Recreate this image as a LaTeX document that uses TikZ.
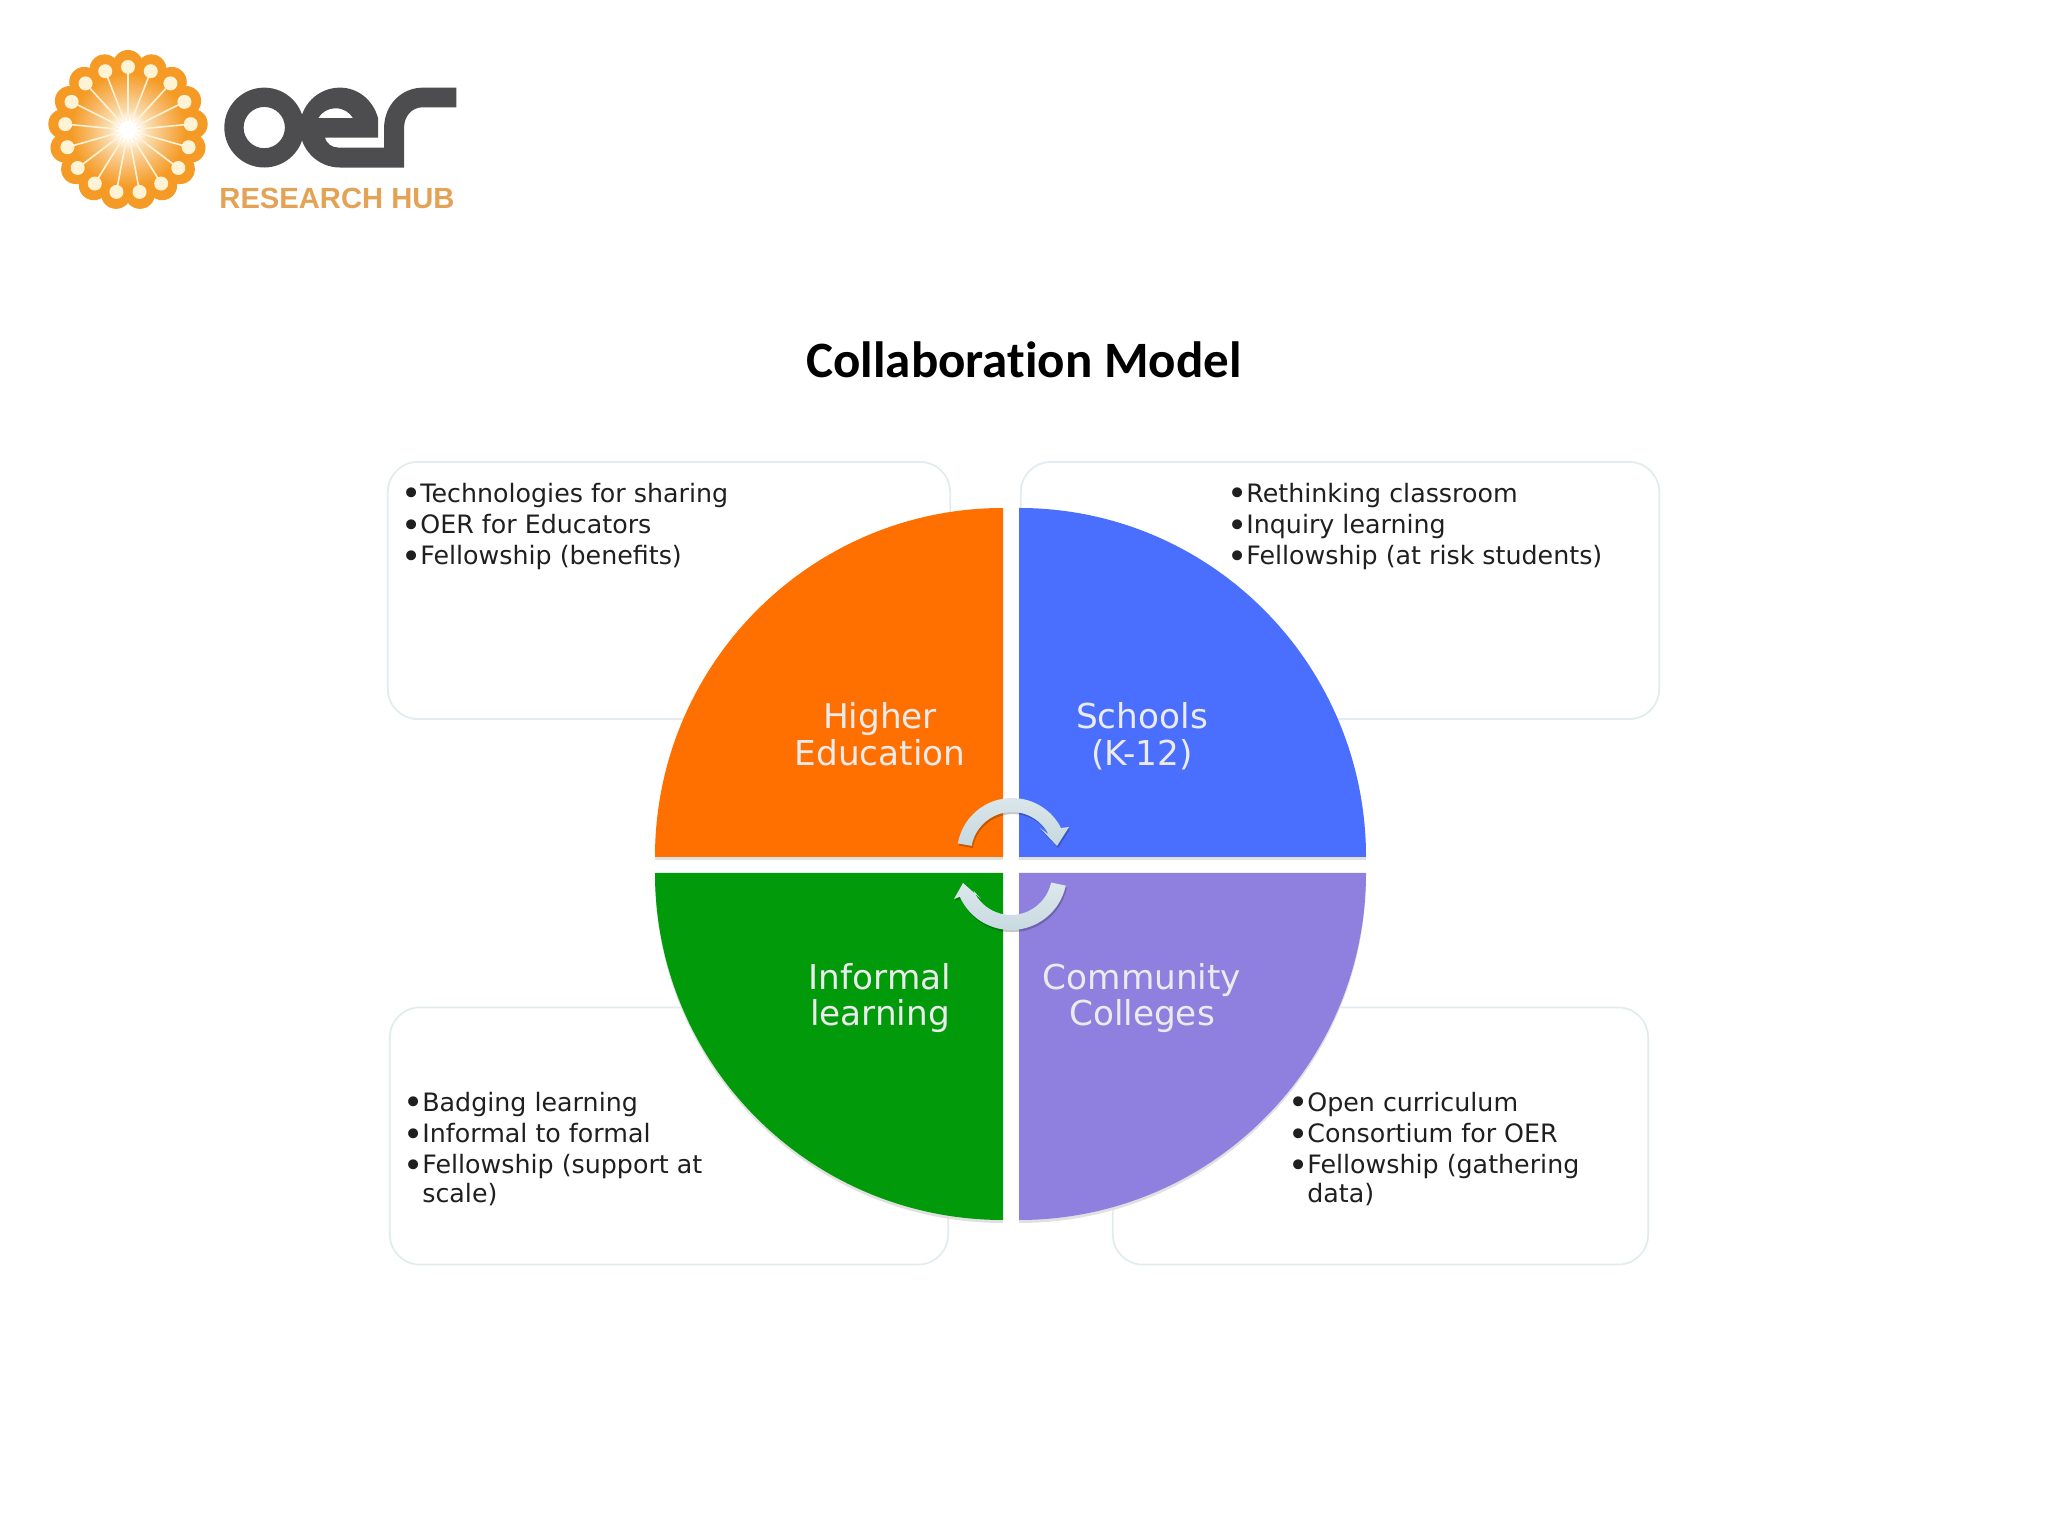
\documentclass[tikz,border=0pt]{standalone}
\usepackage{fontspec}
\setmainfont{DejaVu Sans}
\newfontfamily\titlefont[Ligatures=NoCommon]{Carlito}
\newfontfamily\hubfont{Liberation Sans}
\usetikzlibrary{calc,positioning}
\definecolor{heorange}{HTML}{FF7000}
\definecolor{schoolblue}{HTML}{4A6FFF}
\definecolor{infgreen}{HTML}{009A0A}
\definecolor{ccpurple}{HTML}{8F80E0}
\definecolor{boxline}{HTML}{E2ECEE}
\definecolor{looptop}{HTML}{DCE8EC}
\definecolor{loopbottom}{HTML}{C6D8DF}
\definecolor{sunorange}{HTML}{F59B25}
\definecolor{sunlight}{HTML}{FBDDB0}
\definecolor{sunmid}{HTML}{F8BC6E}
\definecolor{suncream}{HTML}{FFF3D6}
\definecolor{oergrey}{HTML}{4D4D4F}
\definecolor{hubtext}{HTML}{E3A255}
\pgfdeclareradialshading{sunray}{\pgfpointorigin}{color(0bp)=(white);color(4bp)=(white);color(8bp)=(sunlight);color(15bp)=(sunmid);color(23bp)=(sunorange);color(50bp)=(sunorange)}
\newcommand{\bul}{\makebox[5.3pt][l]{\raisebox{-1pt}{\scalebox{1.35}{\textbullet}}}}
\tikzset{
	infobox/.style={draw=boxline,line width=0.5pt,rounded corners=0.3cm,inner sep=0pt,minimum height=2.57cm},
	bulletlist/.style={anchor=north west,align=left,inner sep=0pt,text=black!88,font=\fontsize{7.2}{8.85}\selectfont},
	quadlabel/.style={align=center,text=white!92!black,inner sep=0pt,font=\fontsize{9.75}{10.4}\selectfont},
	loopshape/.style={top color=looptop,bottom color=loopbottom,preaction={fill=black,fill opacity=0.22,transform canvas={xshift=0.3pt,yshift=-0.6pt}}},
	quadshadow/.style={fill=black!12},
}
\begin{document}
\begin{tikzpicture}[x=0.01cm,y=0.01cm]
	\useasboundingbox (0,0) rectangle (2048,1536);
	
	% logo sun
	\coordinate (sun) at (128,1406);
	\foreach \i [evaluate=\i as \a using 90+\i*360/17] in {0,...,16} {
		\fill[sunorange] ($(sun)+(\a:65)$) circle (15);
	}
	\fill[sunorange] (sun) circle (68);
	\shade[shading=sunray] (sun) circle (62);
	\foreach \i [evaluate=\i as \a using 90+\i*360/17] in {0,...,16} {
		\draw[suncream,line width=0.45pt] (sun) -- ($(sun)+(\a:63)$);
		\fill[suncream] ($(sun)+(\a:63)$) circle (7);
	}
	\fill[white] (sun) circle (9);
	
	% logo letters
	\begin{scope}[shift={(215,1461)},x=0.0033333cm,y=-0.0033333cm]
		\fill[oergrey,even odd rule] (148,158) circle [radius=120] (148,158) circle [radius=62];
		\fill[oergrey,even odd rule] (490,188) -- (490,130) .. controls (475,75) and (430,38) .. (375,38)
			.. controls (309,38) and (255,92) .. (255,158) .. controls (255,224) and (309,278) .. (375,278)
			-- (568,278) -- (568,160) .. controls (568,125) and (590,97) .. (625,97)
			-- (725,97) -- (725,38) -- (625,38) .. controls (560,38) and (508,90) .. (508,160)
			-- (508,218) -- (370,218) .. controls (350,218) and (335,205) .. (330,188) -- cycle
			(310,130) .. controls (320,112) and (340,100) .. (362,100) .. controls (385,100) and (405,112) .. (415,130) -- cycle;
	\end{scope}
	\node[anchor=center,inner sep=0pt,text=hubtext,font=\hubfont\bfseries\fontsize{8.3}{8.3}\selectfont] at (337,1338) (hub) {RESEARCH HUB};
	
	\node[inner sep=0pt,font=\titlefont\bfseries\fontsize{14.5}{15}\selectfont] at (1024,1176) (title) {Collaboration Model};
	
	% boxes
	\node[infobox,minimum width=5.62cm] at (669,945.5) (boxhe) {};
	\node[infobox,minimum width=6.38cm] at (1340,945.5) (boxschool) {};
	\node[infobox,minimum width=5.58cm] at (669,400) (boxinf) {};
	\node[infobox,minimum width=5.35cm] at (1380.5,400) (boxcc) {};
	
	% quarters
	\fill[quadshadow] (1003,676) -- (655,676) arc[start angle=180,end angle=90,x radius=348,y radius=349] -- cycle;
	\fill[quadshadow] (1019,676) -- (1019,1025) arc[start angle=90,end angle=0,x radius=347,y radius=349] -- cycle;
	\fill[quadshadow] (1003,660) -- (655,660) arc[start angle=180,end angle=270,x radius=348,y radius=347] -- cycle;
	\fill[quadshadow] (1019,660) -- (1019,313) arc[start angle=270,end angle=360,x radius=347,y radius=347] -- cycle;
	\fill[heorange] (1003,679) -- (655,679) arc[start angle=180,end angle=90,x radius=348,y radius=349] -- cycle;
	\fill[schoolblue] (1019,679) -- (1019,1028) arc[start angle=90,end angle=0,x radius=347,y radius=349] -- cycle;
	\fill[infgreen] (1003,663) -- (655,663) arc[start angle=180,end angle=270,x radius=348,y radius=347] -- cycle;
	\fill[ccpurple] (1019,663) -- (1019,316) arc[start angle=270,end angle=360,x radius=347,y radius=347] -- cycle;
	
	% loop arrows
	\coordinate (upc) at (1012,683);
	\coordinate (loc) at (1011,662);
	\path[loopshape] ($(upc)+(170:55)$) arc[start angle=170,end angle=27,radius=55]
		-- (1069,709) -- (1057,690) -- (1040,708) -- ($(upc)+(27:41)$)
		arc[start angle=27,end angle=170,radius=41] -- cycle;
	\path[loopshape] ($(loc)+(-12:56)$) arc[start angle=-12,end angle=-156,radius=56]
		-- (954,637) -- (963,653) -- (981,637) -- ($(loc)+(-156:41)$)
		arc[start angle=-156,end angle=-12,radius=41] -- cycle;
	
	\node[quadlabel] at (880,802) (he) {Higher\\Education};
	\node[quadlabel] at (1142,800) (school) {Schools\\(K-12)};
	\node[quadlabel] at (880,538) (inf) {Informal\\learning};
	\node[quadlabel] at (1142,538) (cc) {Community\\Colleges};
	
	\node[bulletlist] at (401,1053.5) (listhe) {\bul Technologies for sharing\\\bul OER for Educators\\\bul Fellowship (benefits)};
	\node[bulletlist] at (1227,1053.5) (listschool) {\bul Rethinking classroom\\\bul Inquiry learning\\\bul Fellowship (at risk students)};
	\node[bulletlist] at (403,444.5) (listinf) {\bul Badging learning\\\bul Informal to formal\\\bul Fellowship (support at\\[-0.7pt]\hspace*{5.3pt}scale)};
	\node[bulletlist] at (1288,444.5) (listcc) {\bul Open curriculum\\\bul Consortium for OER\\\bul Fellowship (gathering\\[-0.7pt]\hspace*{5.3pt}data)};
\end{tikzpicture}
\end{document}
